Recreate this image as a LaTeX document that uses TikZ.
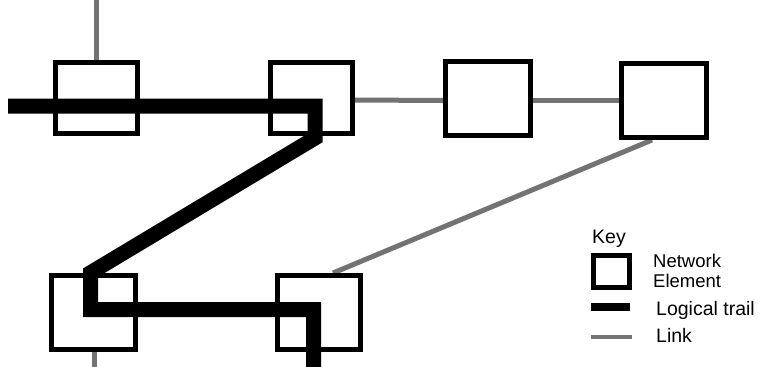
\documentclass[tikz,border=0pt]{standalone}
\usepackage{fontspec}
\setmainfont{Liberation Sans}
\pgfdeclarelayer{background}
\pgfsetlayers{background,main}
\tikzset{
  ne/.style={draw=black, fill=white, line width=5pt, inner sep=0pt, minimum width=83pt, minimum height=74pt},
  trail/.style={draw=black, line width=15pt, line join=miter, line cap=butt},
  link/.style={draw=black!55, line width=5pt, line cap=butt},
  txt/.style={inner sep=0pt, anchor=base west, font=\fontsize{19.5}{17}\selectfont}
}
\begin{document}
\begin{tikzpicture}[x=1pt,y=-1pt]
\useasboundingbox (0,0) rectangle (769,367);
\begin{pgfonlayer}{background}
\fill[white] (0,0) rectangle (769,367);
\end{pgfonlayer}
\clip (0,0) rectangle (769,367);
% network elements
\node[ne, minimum width=82pt, minimum height=71pt] (A) at (96.5,98) {};
\node[ne, minimum width=82pt, minimum height=71pt] (B) at (311.5,98) {};
\node[ne, minimum width=85pt, minimum height=74pt] (C) at (488,98.5) {};
\node[ne, minimum width=85pt, minimum height=74pt] (D) at (664,100.5) {};
\node[ne, minimum width=84pt, minimum height=74pt] (E) at (93.5,312.5) {};
\node[ne, minimum width=83pt, minimum height=74pt] (F) at (319,312.5) {};
% links
\begin{pgfonlayer}{background}
\draw[link] (A.north) -- (A.north |- 0,0);
\draw[link] ([xshift=1pt]E.south) -- ([xshift=1pt]E.south |- 0,370);
\draw[link] ([yshift=-2pt]B.east) -- ([yshift=-2pt]C.west);
\draw[link] (C.east |- D.west) -- (D.west);
\draw[link] ([xshift=-12pt]D.south) -- ([xshift=14pt]F.north);
\end{pgfonlayer}
% logical trail
\coordinate (t0) at (8,106);
\coordinate (t1) at (315,106);
\coordinate (t2) at (315,138);
\coordinate (t3) at (90.5,272.7);
\coordinate (t4) at (90.5,309.5);
\coordinate (t5) at (313.5,309.5);
\coordinate (t6) at (313.5,372);
\draw[trail] (t0) -- (t1) -- (t2) -- (t3) -- (t4) -- (t5) -- (t6);
% key
\node[txt] (key) at (592,243) {Key};
\node[ne, minimum width=36pt, minimum height=32pt] (keybox) at (611.5,271.5) {};
\node[txt, anchor=north west, align=left, font=\fontsize{18.5}{19.5}\selectfont] (net) at (653,254) {Network\\Element};
\coordinate (kt1) at (591,307);
\coordinate (kt2) at (630,307);
\draw[black, line width=8pt] (kt1) -- (kt2);
\node[txt] (lt) at (656,315) {Logical trail};
\coordinate (kl1) at (591,337);
\coordinate (kl2) at (632,337);
\draw[link, line width=4pt] (kl1) -- (kl2);
\node[txt] (lk) at (656,342) {Link};
\end{tikzpicture}
\end{document}
